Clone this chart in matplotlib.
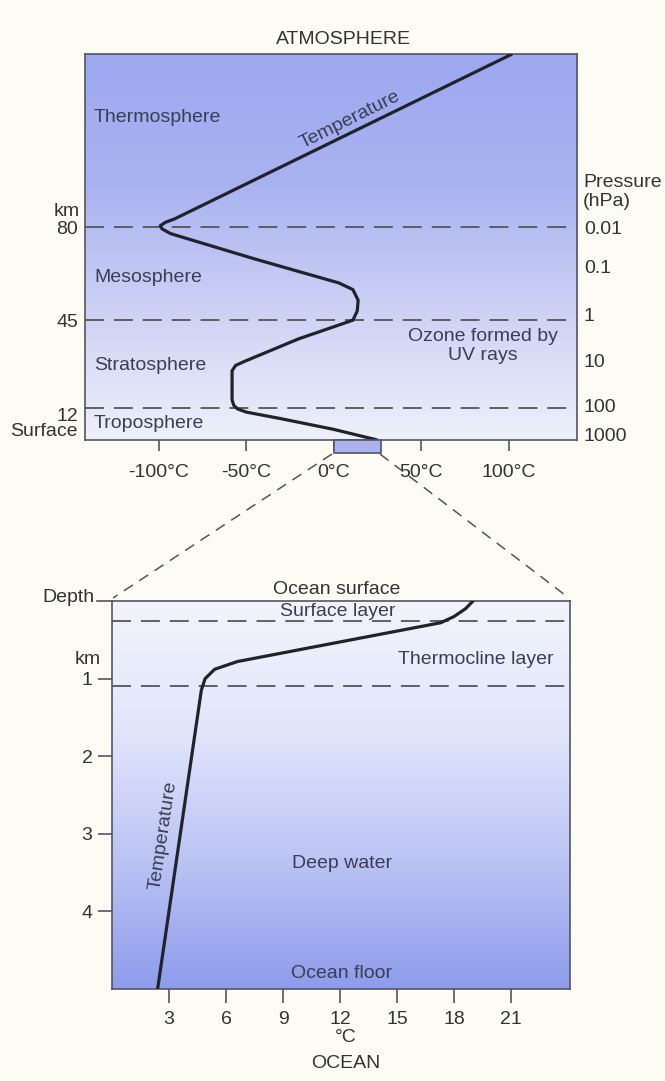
import numpy as np
import matplotlib
matplotlib.use("Agg")
import matplotlib.pyplot as plt
from matplotlib.colors import LinearSegmentedColormap

plt.rcParams['font.family'] = ['Liberation Sans', 'DejaVu Sans']

# atmosphere profile: temperature (degC) vs height (km)
atm_temp = [25, 0, -30, -50, -55, -57, -58, -58, -56, -51, -20, 11, 13.5, 14, 11, 3, -45, -93, -98, -99, -96, -91, 102]
atm_height = [0, 4, 8, 10.5, 11.7, 13, 15, 26, 28, 29.5, 38, 45, 48.5, 52.5, 56.5, 59, 68, 77.5, 79.3, 80.5, 81.8, 83, 145]
atm_layers = [12, 45, 80]
atm_layer_labels = ["12", "45", "80"]
pressure_km = [80, 65, 47, 30, 13, 2]
pressure_labels = ["0.01", "0.1", "1", "10", "100", "1000"]
atm_xticks = [-100, -50, 0, 50, 100]
atm_xlabels = ["-100°C", "-50°C", "0°C", "50°C", "100°C"]

# ocean profile: temperature (degC) vs depth (km)
ocean_temp = [19, 18.6, 18.0, 17.3, 6.6, 5.4, 4.9, 4.7, 2.4]
ocean_depth = [0, 0.1, 0.2, 0.28, 0.78, 0.88, 1.0, 1.15, 5.0]
ocean_layers = [0.26, 1.1]
ocean_yticks = [1, 2, 3, 4]
ocean_xticks = [3, 6, 9, 12, 15, 18, 21]

W, H = 665, 1081
fig = plt.figure(figsize=(W / 100, H / 100), dpi=100)
fig.patch.set_facecolor('#fcfcf4')

def box(l, t, r, b):
    return [l / W, 1 - b / H, (r - l) / W, (b - t) / H]

txt = '#3a3d55'
edge = '#555560'
fs = 14

# ---------------- atmosphere ----------------
ax = fig.add_axes(box(85, 54, 577, 440))
ax.set_xlim(-142, 139)
ax.set_ylim(0, 145)
cmap_a = LinearSegmentedColormap.from_list('a', ['#eef0fa', '#cdd2f5', '#a9b2f1', '#9ea8ef'])
ax.imshow(np.linspace(0, 1, 200).reshape(-1, 1), cmap=cmap_a, origin='lower',
          extent=[-142, 139, 0, 145], aspect='auto', zorder=0)
for z in atm_layers:
    ax.axhline(z, color='#555', lw=1.3, dashes=(10.5, 5.5), zorder=2)
ax.plot(atm_temp, atm_height, color='#22222a', lw=2.3, solid_joinstyle='round',
        solid_capstyle='butt', zorder=3)
for s in ax.spines.values():
    s.set_color(edge)
    s.set_linewidth(1.2)
ax.set_xticks(atm_xticks)
ax.set_xticklabels(atm_xlabels)
ax.tick_params(axis='x', length=8, width=1.2, color=edge, labelsize=fs,
               labelcolor='#333', pad=9)
ax.set_yticks(atm_layers + [0])
ax.set_yticklabels(atm_layer_labels + ["Surface"])
ax.tick_params(axis='y', length=0, labelsize=fs, labelcolor='#333', pad=5)
lbl = ax.get_yticklabels()
lbl[0].set_va('top')
lbl[-1].set_va('bottom')

ax2 = ax.twinx()
ax2.set_ylim(0, 145)
ax2.set_yticks(pressure_km)
ax2.set_yticklabels(pressure_labels)
ax2.tick_params(axis='y', length=0, labelsize=fs, labelcolor='#333', pad=5)
for s in ax2.spines.values():
    s.set_visible(False)

fig.text(343 / W, 1 - 39 / H, "ATMOSPHERE", ha='center', va='center', fontsize=fs, color='#333')
fig.text(80 / W, 1 - 212 / H, "km", ha='right', va='center', fontsize=fs, color='#333')
fig.text(583 / W, 1 - 192 / H, "Pressure\n(hPa)", ha='left', va='center', fontsize=fs,
         color='#333', linespacing=1.15)

for name, y in [("Thermosphere", 118), ("Mesosphere", 278), ("Stratosphere", 365), ("Troposphere", 423)]:
    fig.text(94 / W, 1 - y / H, name, ha='left', va='center', fontsize=fs, color=txt)
fig.text(483 / W, 1 - 346 / H, "Ozone formed by\nUV rays", ha='center', va='center',
         fontsize=fs, color=txt, linespacing=1.1)
fig.text(350 / W, 1 - 120 / H, "Temperature", ha='center', va='center', fontsize=fs,
         color=txt, rotation=26.5)

# zoom box under the axis (0 .. 27 degC)
ax.add_patch(plt.Rectangle((0, -5.0), 27, 5.0, transform=ax.transData, clip_on=False,
                           facecolor='#aab3f0', edgecolor=edge, lw=1.2, zorder=4))

# ---------------- ocean ----------------
bx = fig.add_axes(box(112, 601, 570, 989))
bx.set_xlim(0, 24.1)
bx.set_ylim(5, 0)
cmap_o = LinearSegmentedColormap.from_list('o', ['#f2f3fc', '#e2e6fb', '#bcc4f4', '#8e9ceb'])
bx.imshow(np.linspace(0, 1, 200).reshape(-1, 1), cmap=cmap_o, origin='upper',
          extent=[0, 24.1, 5, 0], aspect='auto', zorder=0)
for d in ocean_layers:
    bx.axhline(d, color='#555', lw=1.3, dashes=(10.5, 5.5), zorder=2)
bx.plot(ocean_temp, ocean_depth, color='#22222a', lw=2.3, solid_joinstyle='round', zorder=3)
for s in bx.spines.values():
    s.set_color(edge)
    s.set_linewidth(1.2)
bx.set_xticks(ocean_xticks)
bx.tick_params(axis='x', length=10, width=1.2, color=edge, labelsize=fs,
               labelcolor='#333', pad=6)
bx.set_yticks(ocean_yticks)
bx.tick_params(axis='y', length=10, width=1.2, color=edge, labelsize=fs,
               labelcolor='#333', pad=4)

fig.text(95 / W, 1 - 598 / H, "Depth", ha='right', va='center', fontsize=fs, color='#333')
fig.add_artist(plt.Line2D([97 / W, 112 / W], [1 - 601 / H, 1 - 601 / H], color=edge, lw=1.2))
fig.text(101 / W, 1 - 660 / H, "km", ha='right', va='center', fontsize=fs, color='#333')
fig.text(337 / W, 1 - 589 / H, "Ocean surface", ha='center', va='center', fontsize=fs, color='#333')
fig.text(338 / W, 1 - 611 / H, "Surface layer", ha='center', va='center', fontsize=fs, color=txt)
fig.text(476 / W, 1 - 660 / H, "Thermocline layer", ha='center', va='center', fontsize=fs, color=txt)
fig.text(342 / W, 1 - 863 / H, "Deep water", ha='center', va='center', fontsize=fs, color=txt)
fig.text(342 / W, 1 - 973 / H, "Ocean floor", ha='center', va='center', fontsize=fs, color=txt)
fig.text(163 / W, 1 - 835 / H, "Temperature", ha='center', va='center', fontsize=fs,
         color=txt, rotation=81.5)
fig.text(346 / W, 1 - 1037 / H, "°C", ha='center', va='center', fontsize=fs, color='#333')
fig.text(346 / W, 1 - 1063 / H, "OCEAN", ha='center', va='center', fontsize=fs, color='#333')

# connecting dashed lines from the zoom box to the ocean panel
for x0, x1 in [(332, 113), (380, 569)]:
    fig.add_artist(plt.Line2D([x0 / W, x1 / W], [1 - 454 / H, 1 - 598 / H], color='#555',
                              lw=1.1, dashes=(7, 5)))

fig.savefig("out.png", dpi=100, facecolor=fig.get_facecolor())
